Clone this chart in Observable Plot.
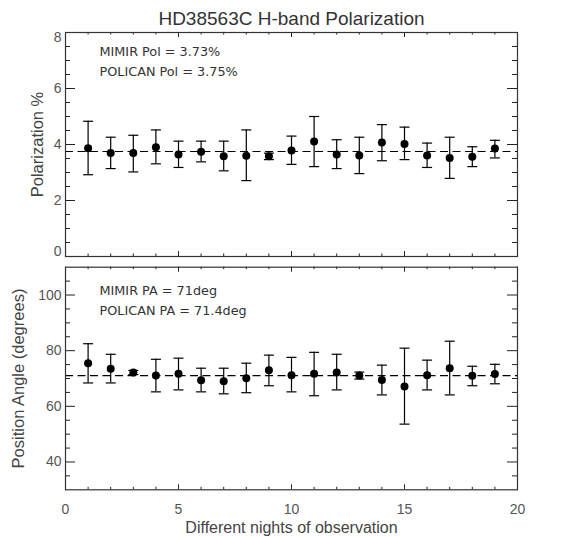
<!DOCTYPE html>
<html><head><meta charset="utf-8">
<script src="https://cdn.jsdelivr.net/npm/d3@7"></script>
<script src="https://cdn.jsdelivr.net/npm/@observablehq/plot@0.6"></script>
<style>
body{margin:0;background:#fff;}
#chart{position:relative;width:588px;height:537px;}
#chart svg{display:block;}
</style></head>
<body><div id="chart"></div>
<script>
// ---- data ----
const nights = [1,2,3,4,5,6,7,8,9,10,11,12,13,14,15,16,17,18,19];
const polValue = [3.87,3.70,3.70,3.90,3.64,3.74,3.58,3.60,3.58,3.79,4.11,3.64,3.61,4.07,4.02,3.61,3.52,3.56,3.86];
const polHigh  = [4.83,4.26,4.33,4.52,4.12,4.12,4.12,4.52,3.69,4.30,5.00,4.17,4.26,4.71,4.62,4.05,4.26,3.92,4.15];
const polLow   = [2.92,3.14,3.02,3.31,3.18,3.38,3.06,2.71,3.46,3.29,3.21,3.14,2.96,3.42,3.46,3.18,2.79,3.21,3.52];
const paValue  = [75.5,73.5,72.2,71.1,71.7,69.4,69.0,70.1,73.0,71.2,71.7,72.2,71.1,69.5,67.1,71.2,73.7,71.0,71.6];
const paHigh   = [82.5,78.7,72.9,76.9,77.3,73.7,73.7,75.5,78.4,77.6,79.4,78.7,72.3,74.8,80.9,76.6,83.4,74.4,75.1];
const paLow    = [68.4,68.4,71.4,65.2,65.9,65.2,64.5,64.9,67.4,65.2,63.8,65.9,69.8,64.1,53.6,65.9,64.1,67.4,68.1];
const polMean = 3.75;
const paMean = 71;
const polNotes = ["MIMIR Pol = 3.73%", "POLICAN Pol = 3.75%"];
const paNotes = ["MIMIR PA = 71deg", "POLICAN PA = 71.4deg"];
const title = "HD38563C H-band Polarization";
const xLabel = "Different nights of observation";
const polLabel = "Polarization %";
const paLabel = "Position Angle (degrees)";
const xTicks = [0,5,10,15,20];
const xMinor = [1,2,3,4,6,7,8,9,11,12,13,14,16,17,18,19];
const polTicks = [0,2,4,6,8];
const polMinor = [0.5,1,1.5,2.5,3,3.5,4.5,5,5.5,6.5,7,7.5];
const paTicks = [40,60,80,100];
const paMinor = [35,45,50,55,65,70,75,85,90,95,105];

// ---- helpers ----
const font = "Liberation Sans, Arial, sans-serif";
const W = 588, mL = 65, mR = 71;
const fw = W - mL - mR;
const cap = {draw(ctx, size){ const r = Math.sqrt(size/Math.PI); ctx.moveTo(-r,0); ctx.lineTo(r,0); }};
const ink = "#222";

function panel({data, yDomain, yTicks, yLabelTicks, yMinor, mean, notes, noteDy, ylab, ylabDx, height, mTop, mBottom, showX, extra}) {
  const fh = height - mTop - mBottom;
  const marks = [
    Plot.ruleY([mean], {stroke: "#000", strokeDasharray: "8,4.5", strokeWidth: 1.2}),
    Plot.ruleX(data, {x: "n", y1: "lo", y2: "hi", stroke: "#000", strokeWidth: 1.2}),
    Plot.dot(data, {x: "n", y: "hi", symbol: cap, r: 5, stroke: "#000", strokeWidth: 1.2}),
    Plot.dot(data, {x: "n", y: "lo", symbol: cap, r: 5, stroke: "#000", strokeWidth: 1.2}),
    Plot.dot(data, {x: "n", y: "v", r: 4, fill: "#000"}),
    Plot.ruleY(yTicks, {y: d => d, insetRight: fw - 10, stroke: ink}),
    Plot.ruleY(yTicks, {y: d => d, insetLeft: fw - 10, stroke: ink}),
    Plot.ruleY(yMinor, {y: d => d, insetRight: fw - 5, stroke: ink}),
    Plot.ruleY(yMinor, {y: d => d, insetLeft: fw - 5, stroke: ink}),
    Plot.ruleX(xTicks, {x: d => d, insetTop: fh - 5, stroke: ink}),
    Plot.ruleX(xTicks, {x: d => d, insetBottom: fh - 5, stroke: ink}),
    Plot.ruleX(xMinor, {x: d => d, insetTop: fh - 2.5, stroke: ink}),
    Plot.ruleX(xMinor, {x: d => d, insetBottom: fh - 2.5, stroke: ink}),
    Plot.frame({stroke: "#333", strokeWidth: 1.2}),
    Plot.text([notes[0]], {frameAnchor: "top-left", textAnchor: "start", lineAnchor: "middle", dx: 34, dy: noteDy[0], fontSize: 12.8, fontFamily: "DejaVu Sans", fill: "#333"}),
    Plot.text([notes[1]], {frameAnchor: "top-left", textAnchor: "start", lineAnchor: "middle", dx: 34, dy: noteDy[1], fontSize: 12.8, fontFamily: "DejaVu Sans", fill: "#333"}),
    Plot.text([ylab], {frameAnchor: "left", textAnchor: "middle", lineAnchor: "middle", rotate: -90, dx: ylabDx, fontSize: 16.5, fill: "#444"}),
    ...extra
  ];
  return Plot.plot({
    width: W, height,
    marginLeft: mL, marginRight: mR, marginTop: mTop, marginBottom: mBottom,
    style: {fontFamily: font, fontSize: "14px", color: "#555", background: "#fff", overflow: "visible"},
    x: {domain: [0, 20], ticks: xTicks, tickSize: 0, tickPadding: 14, label: null, axis: showX ? "bottom" : null},
    y: {domain: yDomain, ticks: yLabelTicks, tickSize: 0, tickPadding: 4, label: null, tickFormat: d3.format("d")},
    marks
  });
}

const polData = nights.map((n, i) => ({n, v: polValue[i], hi: polHigh[i], lo: polLow[i]}));
const paData = nights.map((n, i) => ({n, v: paValue[i], hi: paHigh[i], lo: paLow[i]}));

const edgeLabel = (v, dy) => Plot.text([v], {y: d => d, frameAnchor: "left", textAnchor: "end", dx: -4, dy, fontSize: 14, fill: "#555"});

const polPanel = panel({
  data: polData, yDomain: [0, 8], yTicks: polTicks, yLabelTicks: polTicks.slice(1, -1), yMinor: polMinor, mean: polMean,
  notes: polNotes, noteDy: [19, 39], ylab: polLabel, ylabDx: -28, height: 260, mTop: 32, mBottom: 4, showX: false,
  extra: [
    Plot.text([title], {frameAnchor: "top", lineAnchor: "middle", dy: -14, fontSize: 19, fill: "#333"}),
    edgeLabel(polTicks[polTicks.length - 1], 5.5),
    edgeLabel(polTicks[0], -5)
  ]
});
const paPanel = panel({
  data: paData, yDomain: [30, 110], yTicks: paTicks, yLabelTicks: paTicks, yMinor: paMinor, mean: paMean,
  notes: paNotes, noteDy: [23.5, 43.5], ylab: paLabel, ylabDx: -47, height: 277, mTop: 6.7, mBottom: 47.7, showX: true,
  extra: [Plot.text([xLabel], {frameAnchor: "bottom", lineAnchor: "middle", dy: 38, fontSize: 16, fill: "#444"})]
});
document.getElementById("chart").append(polPanel, paPanel);
</script>
</body></html>
